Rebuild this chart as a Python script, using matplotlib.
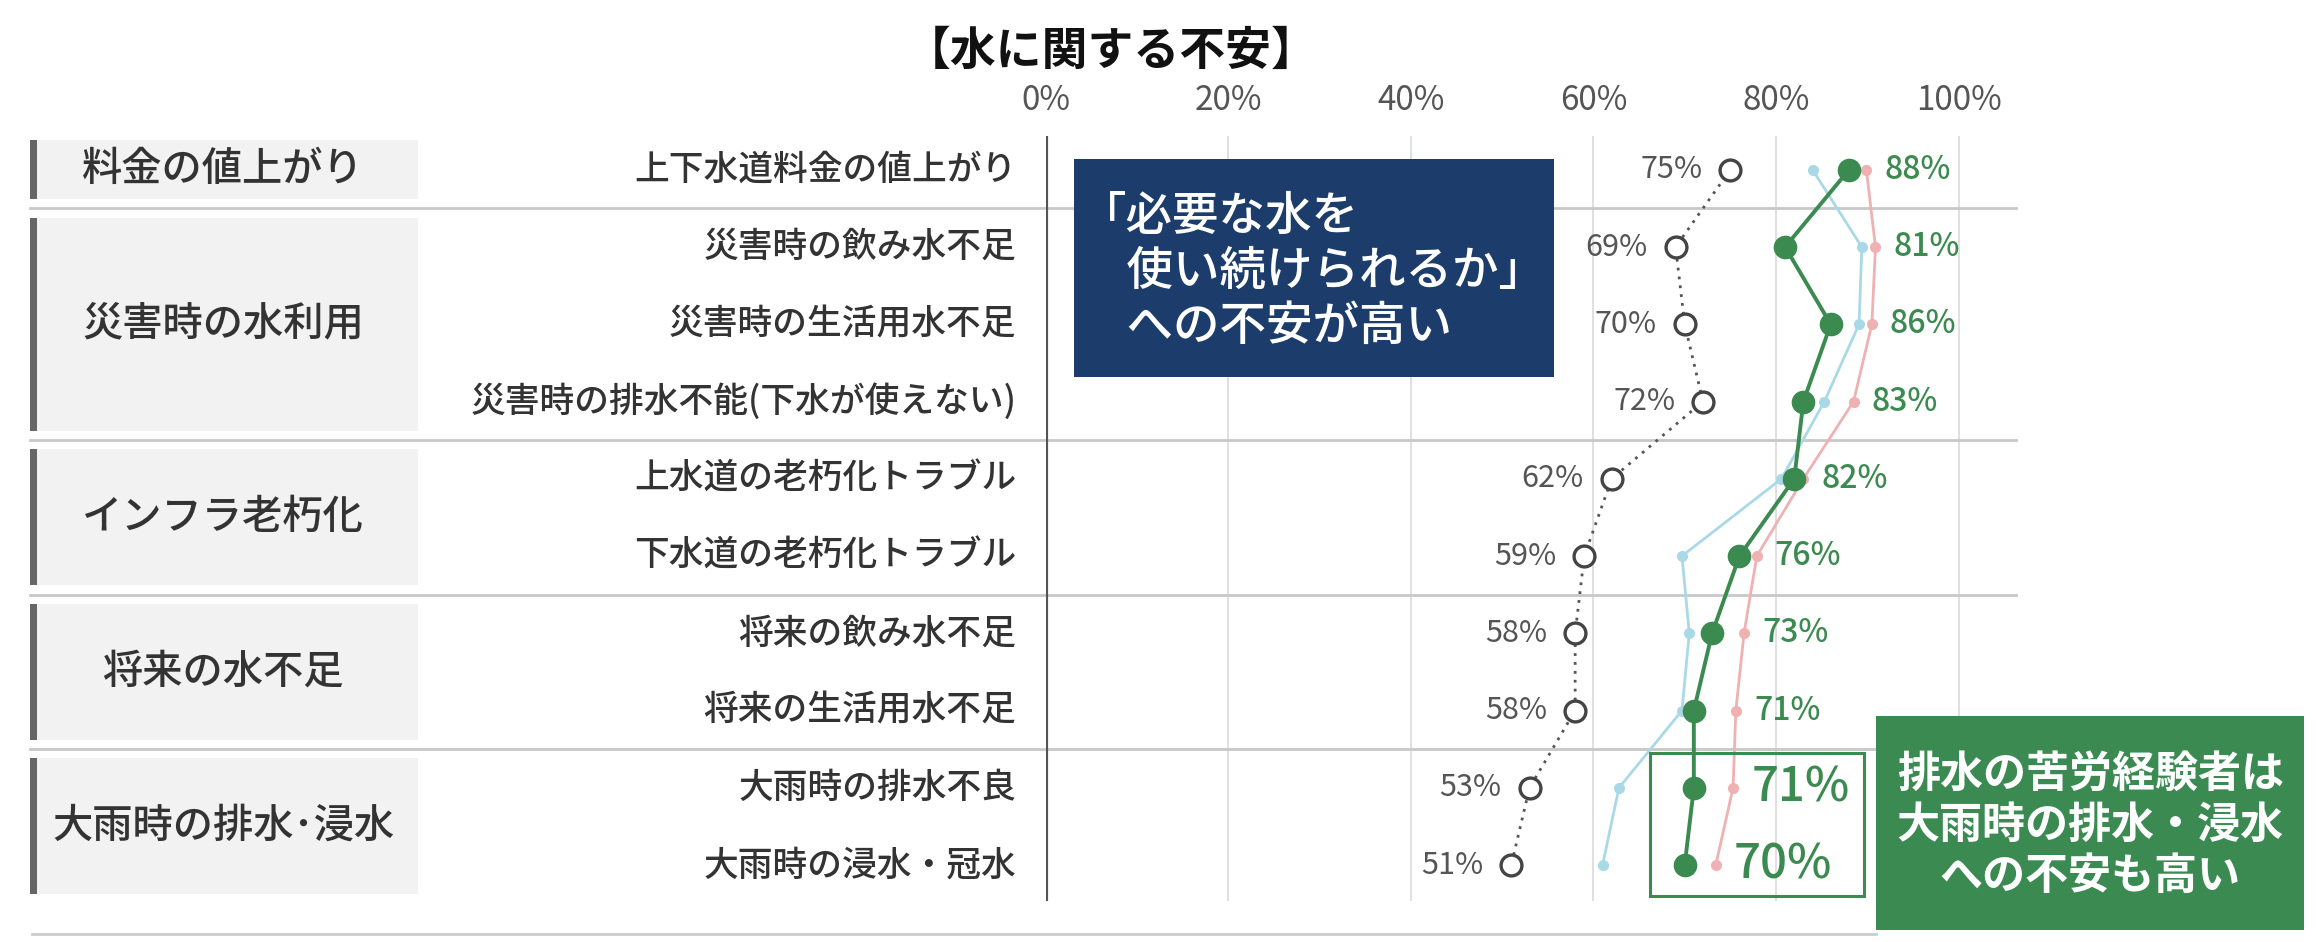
import matplotlib
matplotlib.use("Agg")
import matplotlib.pyplot as plt
import matplotlib.transforms as mtransforms
from matplotlib.patches import Rectangle
from matplotlib.lines import Line2D

# === フォント設定 ===
plt.rcParams['font.family'] = ['Noto Sans CJK JP', 'DejaVu Sans']
plt.rcParams['axes.unicode_minus'] = False

# === データ ===
items = [
    '上下水道料金の値上がり',
    '災害時の飲み水不足',
    '災害時の生活用水不足',
    '災害時の排水不能(下水が使えない)',
    '上水道の老朽化トラブル',
    '下水道の老朽化トラブル',
    '将来の飲み水不足',
    '将来の生活用水不足',
    '大雨時の排水不良',
    '大雨時の浸水・冠水',
]
groups = ['料金の値上がり', '災害時の水利用', 'インフラ老朽化', '将来の水不足', '大雨時の排水･浸水']
group_rows = [(0, 0), (1, 3), (4, 5), (6, 7), (8, 9)]

overall = [75, 69, 70, 72, 62, 59, 58, 58, 53, 51]        # 灰色・白丸
drain_exp = [88, 81, 86, 83, 82, 76, 73, 71, 71, 70]      # 緑
series_blue = [84, 89.4, 89.1, 85.3, 80.6, 69.7, 70.5, 69.7, 62.8, 61.0]
series_pink = [89.9, 90.9, 90.5, 88.5, 83, 77.9, 76.5, 75.6, 75.3, 73.4]

x_ticks = [0, 20, 40, 60, 80, 100]
x_ticklabels = ['0%', '20%', '40%', '60%', '80%', '100%']

GREEN = '#3b8a50'
NAVY = '#1c3d6b'
GRAY_TXT = '#555555'

rows = list(range(len(items)))

fig = plt.figure(figsize=(23.16, 9.42), dpi=100)
ax = fig.add_axes([0.4515, 0.0439, 0.419, 0.812])
ax.set_xlim(0, 106.3)
ax.set_ylim(9.46, -0.44)
for s in ax.spines.values():
    s.set_visible(False)

# 目盛
ax.xaxis.tick_top()
ax.set_xticks(x_ticks)
ax.set_xticklabels(x_ticklabels, fontsize=24, color=GRAY_TXT)
ax.tick_params(axis='x', length=0, pad=13)
ax.set_yticks([])

# グリッド・軸
for v in x_ticks[1:]:
    ax.axvline(v, color='#dddddd', lw=1.3, zorder=0)
ax.axvline(0, color='#555555', lw=3, zorder=1)

# グループ区切り線
for (a, b) in group_rows[1:]:
    ax.axhline(a - 0.5, xmin=-1.047, xmax=1, color='#c8c8c8', lw=2, clip_on=False, zorder=0)

# グループ見出し
blend = mtransforms.blended_transform_factory(fig.transFigure, ax.transData)
for g, (a, b) in zip(groups, group_rows):
    y0 = a - 0.38
    h = (b - a) + 0.76
    ax.add_patch(Rectangle((0.0128, y0), 0.1677, h, transform=blend,
                           facecolor='#f2f2f2', edgecolor='none', clip_on=False, zorder=0))
    ax.add_patch(Rectangle((0.0128, y0), 0.0032, h, transform=blend,
                           facecolor='#666666', edgecolor='none', clip_on=False, zorder=1))
    ax.text(0.0963, (a + b) / 2, g, transform=blend, ha='center', va='center',
            fontsize=29, color='#333333', fontweight='medium')

# 項目ラベル
for i, name in enumerate(items):
    ax.text(0.4388, i, name, transform=blend, ha='right', va='center',
            fontsize=25, color='#333333', fontweight='medium')

# 折れ線
ax.plot(series_blue, rows, color='#a9d9e6', lw=2, marker='o', ms=8,
        markeredgewidth=0, zorder=3)
ax.plot(series_pink, rows, color='#efb1b1', lw=2, marker='o', ms=8,
        markeredgewidth=0, zorder=3)
ax.plot(overall, rows, color='#555555', lw=2, ls=(0, (1, 2.2)), marker='o', ms=15,
        markerfacecolor='white', markeredgecolor='#444444', markeredgewidth=2.4, zorder=4)
ax.plot(drain_exp, rows, color=GREEN, lw=2.8, marker='o', ms=17,
        markeredgewidth=0, zorder=5)

# 数値ラベル
for i, v in enumerate(overall):
    ax.annotate(f'{v}%', (v, i), xytext=(-20, 0), textcoords='offset points',
                ha='right', va='center', fontsize=22, color=GRAY_TXT)
for i, v in enumerate(drain_exp):
    big = i >= 8
    ax.annotate(f'{v}%', (max(v, series_pink[i]), i), xytext=(13, 0),
                textcoords='offset points', ha='left', va='center',
                fontsize=34 if big else 23, color=GREEN, fontweight='medium')

# 大雨時の強調枠
ax.add_patch(Rectangle((66.2, 7.55), 23.4, 1.85, fill=False, edgecolor=GREEN,
                       lw=2.2, zorder=6))

# タイトル
fig.text(0.4796, 0.945, '【水に関する不安】', ha='center', va='center',
         fontsize=33, fontweight='bold', color='#111111')

# 吹き出しボックス
fig.add_artist(Rectangle((0.4636, 0.6003), 0.2073, 0.2304, transform=fig.transFigure,
                         facecolor=NAVY, edgecolor='none', zorder=2))
fig.text(0.4665, 0.712, '「必要な水を\n\u3000使い続けられるか」\n\u3000への不安が高い',
         ha='left', va='center', fontsize=33.5, color='white', linespacing=1.22,
         fontweight='medium', zorder=3)

fig.add_artist(Rectangle((0.810, 0.0125), 0.185, 0.227, transform=fig.transFigure,
                         facecolor='#3a8a52', edgecolor='none', zorder=2))
fig.text(0.9025, 0.124, '排水の苦労経験者は\n大雨時の排水・浸水\nへの不安も高い',
         ha='center', va='center', fontsize=31, color='white', fontweight='bold',
         linespacing=1.2, zorder=3)

# 下線
fig.add_artist(Line2D([0.014, 0.81], [0.008, 0.008], transform=fig.transFigure,
                      color='#cccccc', lw=2))

fig.savefig('out.png', dpi=100)
